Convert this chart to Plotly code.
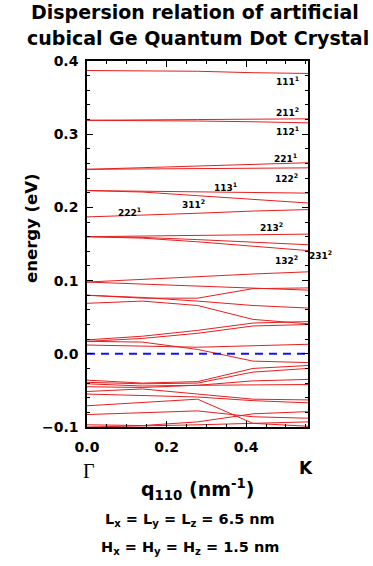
import plotly.graph_objects as go

# ---------------- data ----------------
q_110 = [0.0, 0.139, 0.278, 0.417, 0.5554]   # nm^-1, Gamma -> K

upper_bands = [
    [0.387, 0.387, 0.386, 0.384, 0.383],
    [0.319, 0.319, 0.320, 0.3205, 0.321],
    [0.319, 0.319, 0.318, 0.317, 0.3155],
    [0.252, 0.254, 0.256, 0.2585, 0.261],
    [0.252, 0.2525, 0.253, 0.2535, 0.254],
    [0.223, 0.222, 0.221, 0.220, 0.2195],
    [0.223, 0.221, 0.216, 0.211, 0.206],
    [0.187, 0.189, 0.192, 0.195, 0.197],
    [0.160, 0.161, 0.162, 0.163, 0.1635],
    [0.160, 0.159, 0.156, 0.152, 0.149],
    [0.160, 0.158, 0.153, 0.147, 0.141],
]

middle_bands = [
    [0.098, 0.102, 0.106, 0.109, 0.112],
    [0.098, 0.095, 0.092, 0.089, 0.087],
    [0.080, 0.076, 0.076, 0.089, 0.090],
    [0.080, 0.077, 0.072, 0.066, 0.0625],
    [0.069, 0.072, 0.066, 0.047, 0.041],
    [0.019, 0.024, 0.032, 0.042, 0.044],
    [0.017, 0.021, 0.028, 0.038, 0.040],
    [0.012, 0.010, 0.009, 0.011, 0.013],
    [0.017, 0.016, 0.006, -0.010, -0.012],
]

lower_bands = [
    [-0.036, -0.040, -0.038, -0.020, -0.016],
    [-0.039, -0.041, -0.040, -0.025, -0.020],
    [-0.041, -0.044, -0.043, -0.037, -0.035],
    [-0.045, -0.046, -0.043, -0.042, -0.042],
    [-0.0515, -0.048, -0.055, -0.062, -0.063],
    [-0.055, -0.057, -0.059, -0.064, -0.067],
    [-0.071, -0.066, -0.062, -0.095, -0.099],
    [-0.083, -0.080, -0.078, -0.086, -0.088],
    [-0.097, -0.098, -0.093, -0.082, -0.079],
    [-0.100, -0.099, -0.097, -0.095, -0.093],
]

fermi_level = [0.0, 0.0]
fermi_q = [0.0, 0.5554]

band_labels = ["111<sup>1</sup>", "211<sup>2</sup>", "112<sup>1</sup>", "221<sup>1</sup>",
               "122<sup>2</sup>", "113<sup>1</sup>", "311<sup>2</sup>", "222<sup>1</sup>",
               "213<sup>2</sup>", "132<sup>2</sup>", "231<sup>2</sup>"]

# ---------------- layout geometry (page pixels) ----------------
W, H = 373, 566
X0, X1, Y0, Y1 = 87, 308, 61, 427


def px(x):
    return (x - X0) / (X1 - X0)


def py(y):
    return (Y1 - y) / (Y1 - Y0)


label_pos = [(287, 81), (287, 112), (287, 131), (285, 158), (286, 178), (225, 187),
             (193, 204), (129, 212), (271, 227), (286, 260), (320, 255)]

FONT = "DejaVu Sans"
RED = "rgb(232,30,30)"

fig = go.Figure()
for band in upper_bands + middle_bands + lower_bands:
    fig.add_trace(go.Scatter(x=q_110, y=band, mode="lines",
                             line=dict(color=RED, width=1), showlegend=False,
                             hoverinfo="skip"))
fig.add_trace(go.Scatter(x=fermi_q, y=fermi_level, mode="lines",
                         line=dict(color="rgb(20,20,235)", width=2, dash="8px,6px"),
                         showlegend=False, hoverinfo="skip"))

axis_common = dict(showline=True, linecolor="black", linewidth=1.5, mirror="ticks",
                   ticks="inside", ticklen=6, tickwidth=1.2, tickcolor="black",
                   showgrid=False, zeroline=False, tickformat=".1f",
                   tickfont=dict(family=FONT, size=14, color="black", weight="bold"))

fig.update_xaxes(range=[0, 0.5554], dtick=0.2, tick0=0, ticklabelstandoff=6,
                 minor=dict(ticks="inside", dtick=0.05, ticklen=3, tickcolor="black",
                            tickwidth=1), **axis_common)
fig.update_yaxes(range=[-0.1, 0.4], dtick=0.1, tick0=0, ticklabelstandoff=4,
                 minor=dict(ticks="inside", dtick=0.02, ticklen=3, tickcolor="black",
                            tickwidth=1), **axis_common)

ann = []


def add(text, x, y, size, family=FONT, weight="bold", **kw):
    ann.append(dict(text=text, x=px(x), y=py(y), xref="paper", yref="paper",
                    showarrow=False, xanchor="center", yanchor="middle",
                    font=dict(family=family, size=size, color="black", weight=weight), **kw))


add("Dispersion relation of artificial", 195, 12, 19)
add("cubical Ge Quantum Dot Crystal", 198, 38, 19)
add("energy (eV)", 32, 228, 16.5, textangle=-90)
add("Γ", 89, 471, 20, family="Liberation Serif", weight="normal")
add("K", 306, 468, 17)
add("q<sub>110</sub> (nm<sup>-1</sup>)", 197, 489, 19)
add("L<sub>x</sub> = L<sub>y</sub> = L<sub>z</sub> = 6.5 nm", 190, 520, 14.5)
add("H<sub>x</sub> = H<sub>y</sub> = H<sub>z</sub> = 1.5 nm", 190, 548, 14.5)
for t, (lx, ly) in zip(band_labels, label_pos):
    add(t, lx, ly, 9)

fig.update_layout(width=W, height=H,
                  margin=dict(l=X0, r=W - X1, t=Y0, b=H - Y1),
                  plot_bgcolor="white", paper_bgcolor="white", annotations=ann,
                  showlegend=False)

fig.write_html("out.html", config={"displayModeBar": False},
               post_script="document.body.style.margin='0';document.body.style.overflow='hidden';")
